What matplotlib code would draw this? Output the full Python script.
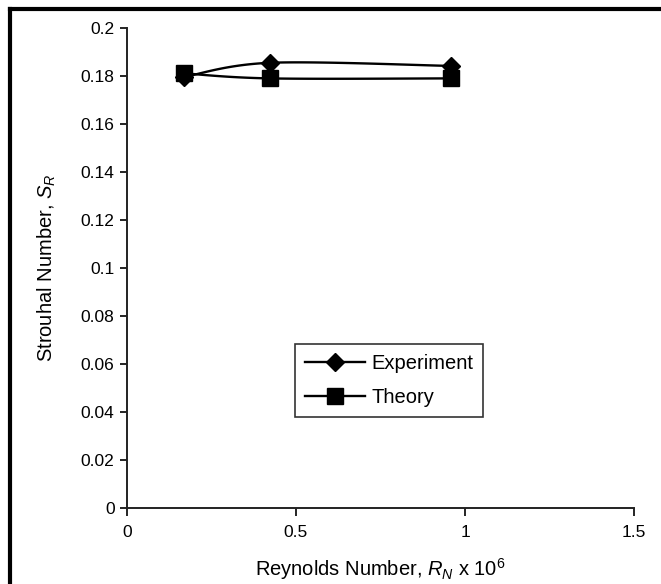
import numpy as np
import matplotlib
matplotlib.use("Agg")
import matplotlib.pyplot as plt
from matplotlib.lines import Line2D
from matplotlib.ticker import FuncFormatter

plt.rcParams['font.family'] = ['Liberation Sans', 'DejaVu Sans']
plt.rcParams['mathtext.fontset'] = 'custom'
plt.rcParams['mathtext.it'] = 'Liberation Sans:italic'
plt.rcParams['mathtext.rm'] = 'Liberation Sans'

# Reynolds number (x 10^6) and Strouhal number
reynolds = [0.169, 0.423, 0.959]
experiment = [0.1796, 0.1855, 0.1842]
theory = [0.1811, 0.1790, 0.1790]


def smooth(xs, ys, n=40):
    """Excel-like smoothed line through the points (Catmull-Rom Bezier)"""
    pts = np.column_stack([xs, ys])
    out = [pts[0]]
    for i in range(len(pts) - 1):
        p0 = pts[i - 1] if i > 0 else pts[i]
        p1 = pts[i]
        p2 = pts[i + 1]
        p3 = pts[i + 2] if i + 2 < len(pts) else pts[i + 1]
        c1 = p1 + (p2 - p0) / 6
        c2 = p2 - (p3 - p1) / 6
        t = np.linspace(0, 1, n)[1:, None]
        seg = ((1 - t) ** 3) * p1 + 3 * ((1 - t) ** 2) * t * c1 + 3 * (1 - t) * t ** 2 * c2 + t ** 3 * p2
        out.extend(seg)
    out = np.array(out)
    return out[:, 0], out[:, 1]


W, H = 661, 584
fig = plt.figure(figsize=(W / 100, H / 100), dpi=100)
ax = fig.add_axes([127 / W, 1 - 508 / H, 507 / W, 480 / H])

sx, sy = smooth(reynolds, experiment)
ax.plot(sx, sy, color='black', lw=1.7, zorder=2)
sx, sy = smooth(reynolds, theory)
ax.plot(sx, sy, color='black', lw=1.7, zorder=2)
ax.plot(reynolds, experiment, ls='none', marker='D', ms=9.5, color='black', zorder=3)
ax.plot(reynolds, theory, ls='none', marker='s', ms=12, color='black', zorder=4)

ax.set_xlim(0, 1.5)
ax.set_ylim(0, 0.2)
ax.set_xticks([0, 0.5, 1, 1.5])
ax.set_yticks(np.arange(0, 0.201, 0.02))
fmt = FuncFormatter(lambda v, p: '%g' % round(v, 2))
ax.xaxis.set_major_formatter(fmt)
ax.yaxis.set_major_formatter(fmt)
ax.tick_params(direction='out', width=1.2, labelsize=12.5, colors='black')
ax.tick_params(axis='y', length=5, pad=4)
ax.tick_params(axis='x', length=6, pad=6)
for s in ['top', 'right']:
    ax.spines[s].set_visible(False)
for s in ['left', 'bottom']:
    ax.spines[s].set_linewidth(1.4)
    ax.spines[s].set_color('#222222')

ax.set_xlabel('Reynolds Number, $R_N$ x 10$^6$', fontsize=14.5, labelpad=12)
ax.set_ylabel('Strouhal Number, $S_R$', fontsize=14.5, labelpad=16)

handles = [
    Line2D([], [], color='black', lw=1.7, marker='D', ms=9),
    Line2D([], [], color='black', lw=1.7, marker='s', ms=11),
]
leg = ax.legend(handles, ['Experiment', 'Theory'], loc='lower left',
                bbox_to_anchor=((295 - 127) / 507, (508 - 417) / 480, 188 / 507, 79 / 480),
                mode='expand', fontsize=14.5, frameon=True, fancybox=False,
                borderpad=0.5, handlelength=3.0, handletextpad=0.3,
                labelspacing=0.75, borderaxespad=0)
leg.get_frame().set_edgecolor('black')
leg.get_frame().set_linewidth(1.2)

# border of the picture (top and left only)
fig.add_artist(Line2D([9.5 / W, 1], [1 - 9 / H, 1 - 9 / H], color='black', lw=3,
                      transform=fig.transFigure))
fig.add_artist(Line2D([9.5 / W, 9.5 / W], [1 - 9 / H, 0], color='black', lw=3,
                      transform=fig.transFigure))

fig.savefig('out.png', dpi=100)
